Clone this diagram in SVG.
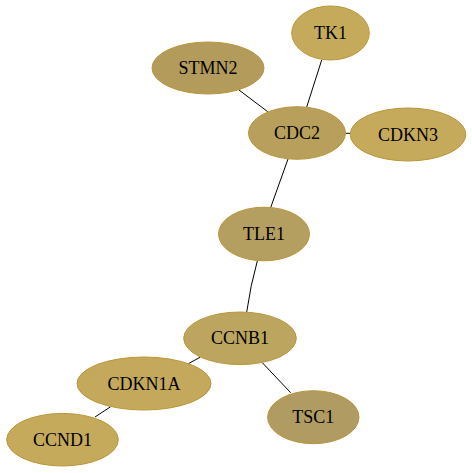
<svg xmlns="http://www.w3.org/2000/svg" width="472" height="473" viewBox="0 0 472 473">
<style>
.n{stroke:#b8973a;stroke-width:1}
.t{font-family:"Liberation Serif","Times New Roman",serif;font-size:18px;fill:#000;text-anchor:middle;dominant-baseline:central}
.e{stroke:#000;stroke-width:1;fill:none}
</style>
<rect width="472" height="473" fill="#fff"/>
<g id="edges">
<path class="e" d="M321.7,60 L306.7,107"/>
<path class="e" d="M239,90 L267.7,111.7"/>
<path class="e" d="M345.7,133.3 L350.7,133.3"/>
<path class="e" d="M288,159 L270.5,208"/>
<path class="e" d="M257.3,261 Q250.5,285 246.7,312"/>
<path class="e" d="M200,357.3 L188.3,363.7"/>
<path class="e" d="M262.3,362.7 L290.7,392.7"/>
<path class="e" d="M110.7,406.7 L95,417"/>
</g>
<g id="TK1"><ellipse class="n" cx="330.5" cy="33" rx="38.8" ry="27" fill="#c6aa5c"/><text class="t" x="330.5" y="33">TK1</text></g>
<g id="STMN2"><ellipse class="n" cx="208" cy="68" rx="56" ry="26" fill="#b39b5b"/><text class="t" x="208" y="68">STMN2</text></g>
<g id="CDC2"><ellipse class="n" cx="297" cy="133" rx="48.5" ry="26.3" fill="#b8a05c"/><text class="t" x="297" y="133">CDC2</text></g>
<g id="CDKN3"><ellipse class="n" cx="408" cy="134.5" rx="57.8" ry="26.5" fill="#c6aa5c"/><text class="t" x="408" y="134.5">CDKN3</text></g>
<g id="TLE1"><ellipse class="n" cx="264" cy="234" rx="45.5" ry="26.8" fill="#b49f60"/><text class="t" x="264" y="234">TLE1</text></g>
<g id="CCNB1"><ellipse class="n" cx="240" cy="338.3" rx="56.3" ry="26.3" fill="#bca55e"/><text class="t" x="240" y="338.3">CCNB1</text></g>
<g id="CDKN1A"><ellipse class="n" cx="144" cy="383.5" rx="67" ry="26.5" fill="#c4a95d"/><text class="t" x="144" y="383.5">CDKN1A</text></g>
<g id="TSC1"><ellipse class="n" cx="313.3" cy="417.2" rx="45.7" ry="26.5" fill="#b09b62"/><text class="t" x="313.3" y="417.2">TSC1</text></g>
<g id="CCND1"><ellipse class="n" cx="62.5" cy="439.7" rx="55.8" ry="26.3" fill="#c6aa5c"/><text class="t" x="62.5" y="439.7">CCND1</text></g>
</svg>
